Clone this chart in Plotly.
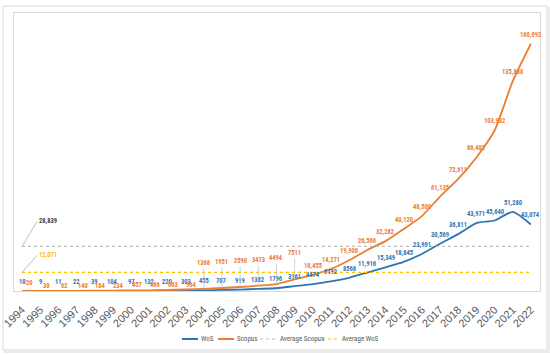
import plotly.graph_objects as go

years = list(range(1994, 2023))
wos = [10, 9, 11, 22, 39, 104, 97, 132, 220, 303, 455, 707, 919, 1382, 1796,
       3161, 4474, 6192, 8568, 11916, 15349, 18845, 23991, 30569, 36811,
       43971, 45640, 51280, 43074]
scopus = [20, 30, 62, 140, 184, 234, 457, 466, 663, 964, 1368, 1951, 2590,
          3473, 4494, 7511, 10455, 14271, 19900, 26566, 32282, 40120, 48500,
          61135, 72611, 86482, 103932, 135838, 160092]
avg_scopus = 28839
avg_wos = 12071
series_names = ["WoS", "Scopus", "Average Scopus", "Average WoS"]

BLUE = "#2E75B6"
ORANGE = "#ED7D31"
GRAY = "#BFBFBF"
YELLOW = "#FFC000"
NARROW = "Liberation Sans Narrow, Roboto Condensed, Liberation Sans, sans-serif"

W, H = 550, 355
ML, MR, MT, MB = 14, 10, 13, 64
PW, PH = W - ML - MR, H - MT - MB


def px_x(px):
    return (px - ML) / PW


def px_y(py):
    return (H - MB - py) / PH


def fmt(v):
    return f"{v:,}" if v >= 10000 else str(v)


colors = [BLUE, ORANGE, GRAY, YELLOW]
dashes = ["solid", "solid", "dot", "dot"]

fig = go.Figure()
fig.add_trace(go.Scatter(x=years, y=wos, name=series_names[0], mode="lines",
                         line=dict(color=BLUE, width=1.8, shape="spline", smoothing=0.6)))
fig.add_trace(go.Scatter(x=years, y=scopus, name=series_names[1], mode="lines",
                         line=dict(color=ORANGE, width=1.8, shape="spline", smoothing=0.6)))
fig.add_trace(go.Scatter(x=years, y=[avg_scopus] * len(years), name=series_names[2],
                         mode="lines", line=dict(color=GRAY, width=1.2, dash="dot")))
fig.add_trace(go.Scatter(x=years, y=[avg_wos] * len(years), name=series_names[3],
                         mode="lines", line=dict(color=YELLOW, width=1.2, dash="dot")))

lab_font = lambda c: dict(size=6.5, color=c, family=NARROW, weight="bold")

ann = []
for yr, w, s in zip(years, wos, scopus):
    ann.append(dict(x=yr, y=w, text=fmt(w), showarrow=False, yshift=9,
                    font=lab_font(BLUE)))
    if yr <= 2003:
        ann.append(dict(x=yr, y=s, text=fmt(s), showarrow=False,
                        xshift=7 if yr == 1994 else 6, yshift=8 if yr == 1994 else 5,
                        font=lab_font(ORANGE)))
    elif yr <= 2009:
        ann.append(dict(x=yr, y=s, text=fmt(s), showarrow=True, arrowhead=0,
                        arrowwidth=0.7, arrowcolor="#BFBFBF", ax=0, ay=-26,
                        standoff=0, font=lab_font(ORANGE)))
    else:
        ann.append(dict(x=yr, y=s, text=fmt(s), showarrow=False, yshift=9,
                        font=lab_font(ORANGE)))

ann.append(dict(x=years[0], y=avg_scopus, text=f"{avg_scopus:,}", showarrow=True,
                arrowhead=0, arrowwidth=0.7, arrowcolor="#A6A6A6", ax=15, ay=-25,
                xanchor="left", standoff=0, font=lab_font("#404040")))
ann.append(dict(x=years[0], y=avg_wos, text=f"{avg_wos:,}", showarrow=True,
                arrowhead=0, arrowwidth=0.7, arrowcolor="#A6A6A6", ax=15, ay=-17,
                xanchor="left", standoff=0, font=lab_font(YELLOW)))

# compact legend (swatch start pixel, text start pixel)
legend_px = [(182, 199), (218, 235), (260, 278), (322, 340)]
legend_y = 339
shapes = [
    dict(type="rect", xref="paper", yref="paper",
         x0=px_x(5), x1=px_x(549), y0=px_y(352), y1=px_y(8),
         line=dict(color="#EBEBEB", width=2), layer="below"),
    dict(type="rect", xref="paper", yref="paper",
         x0=px_x(3), x1=px_x(547), y0=px_y(350), y1=px_y(6),
         fillcolor="white", line=dict(color="#D9D9D9", width=1), layer="below"),
]
for name, c, d, (sx, tx) in zip(series_names, colors, dashes, legend_px):
    shapes.append(dict(type="line", xref="paper", yref="paper",
                       x0=px_x(sx), x1=px_x(sx + 16), y0=px_y(legend_y), y1=px_y(legend_y),
                       line=dict(color=c, width=2 if d == "solid" else 1.2, dash=d)))
    ann.append(dict(xref="paper", yref="paper", x=px_x(tx), y=px_y(legend_y),
                    text=name, showarrow=False, xanchor="left", yanchor="middle",
                    font=dict(size=7, color="#595959", family=NARROW)))

fig.update_layout(
    width=W, height=H,
    margin=dict(l=ML, r=MR, t=MT, b=MB, autoexpand=False),
    paper_bgcolor="white", plot_bgcolor="rgba(0,0,0,0)",
    annotations=ann, shapes=shapes,
    showlegend=False,
)
fig.update_xaxes(range=[1993.56, 2022.5], dtick=1, tickangle=-45,
                 tickfont=dict(size=11, color="#595959",
                               family="Liberation Sans, Arial, sans-serif"),
                 ticklabelstandoff=7,
                 showgrid=False, zeroline=False, showline=True, mirror=True,
                 linecolor="#D9D9D9", linewidth=1, ticks="")
fig.update_yaxes(range=[0, 180000], showticklabels=False, showgrid=False,
                 zeroline=False, showline=True, mirror=True,
                 linecolor="#D9D9D9", linewidth=1, ticks="")

fig.write_html("out.html", config={"displayModeBar": False},
               post_script="document.body.style.margin='0';")
